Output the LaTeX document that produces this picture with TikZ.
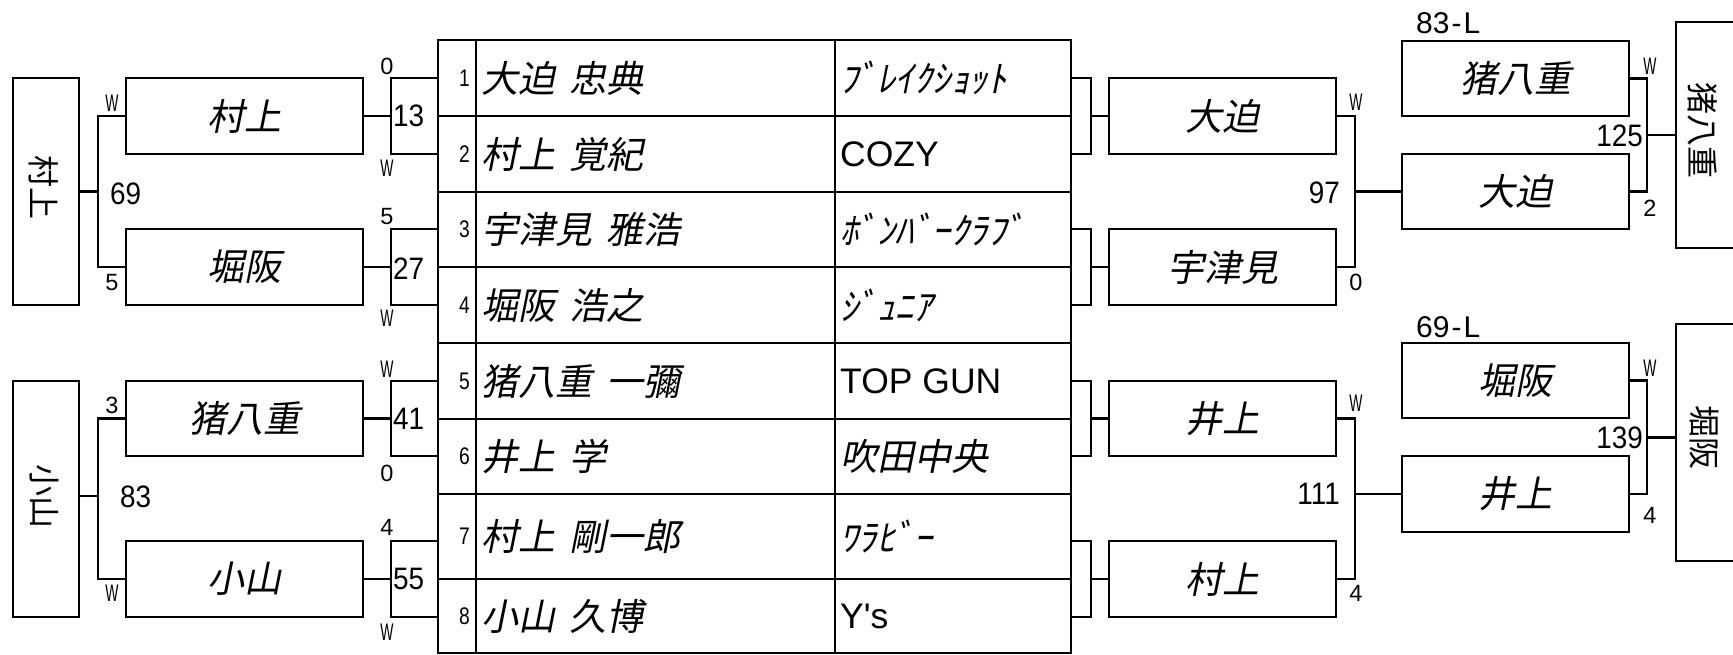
\documentclass[tikz,border=0pt]{standalone}
\usepackage{fontspec}
\usepackage{graphicx}
\setmainfont{Liberation Sans}
\newfontfamily\jpsl{Noto Sans CJK JP}[FakeSlant=0.2]
\newfontfamily\jpup{Noto Sans CJK JP}
\newfontfamily\latn{Liberation Sans}[Ligatures=TeXOff]
\newfontfamily\midn{Liberation Sans}[FakeStretch=0.9]
\newcommand{\jsp}{\hspace{14pt}}
\newcommand{\WW}{\scalebox{0.58}[1]{W}}
\newcommand{\tnumb}[1]{\scalebox{0.8}[1]{#1}}
\tikzset{
  bx/.style={draw, line width=2.8pt, inner sep=0pt, outer sep=0pt},
  cell/.style={draw, line width=2.8pt, inner sep=0pt, outer sep=0pt},
  ln/.style={line width=2.5pt},
  jpt/.style={font=\jpsl\fontsize{37}{37}\selectfont},
  vt/.style={font=\jpup\fontsize{32}{32}\selectfont, rotate=-90, inner sep=0pt},
  wl/.style={font=\fontsize{24}{24}\selectfont, inner sep=0pt},
  sl/.style={font=\fontsize{23.5}{23.5}\selectfont, inner sep=0pt},
  ml/.style={font=\midn\fontsize{31}{31}\selectfont, inner sep=0pt},
  lbl/.style={font=\fontsize{30}{30}\selectfont, inner sep=0pt, anchor=west},
  tn/.style={font=\fontsize{24}{24}\selectfont, inner sep=0pt, anchor=east},
  nm/.style={font=\jpsl\fontsize{37}{37}\selectfont, inner sep=0pt, anchor=west},
  lt/.style={font=\latn\fontsize{35.5}{35.5}\selectfont, inner sep=0pt, anchor=west},
}
\begin{document}
\begin{tikzpicture}[x=1pt,y=-1pt]
\useasboundingbox (0,0) rectangle (1733,655);
% ---------------- table ----------------
\foreach \i/\c/\h in {1/78/76, 2/154/76, 3/229.5/75, 4/305/76, 5/381/76, 6/456.5/75, 7/536.5/85, 8/616/74} {
  \node[cell, minimum width=38pt, minimum height=\h pt] (n\i) at (457,\c) {};
  \node[cell, minimum width=359pt, minimum height=\h pt] (m\i) at (655.5,\c) {};
  \node[cell, minimum width=236pt, minimum height=\h pt] (t\i) at (953,\c) {};
  \node[tn] (nt\i) at ([xshift=-6pt]n\i.east) {\tnumb{\i}};
}
\node[nm] (mt1) at ([xshift=5pt]m1.west) {大迫\jsp 忠典};
\node[nm] (mt2) at ([xshift=5pt]m2.west) {村上\jsp 覚紀};
\node[nm] (mt3) at ([xshift=5pt]m3.west) {宇津見\jsp 雅浩};
\node[nm] (mt4) at ([xshift=5pt]m4.west) {堀阪\jsp 浩之};
\node[nm] (mt5) at ([xshift=5pt]m5.west) {猪八重\jsp 一彌};
\node[nm] (mt6) at ([xshift=5pt]m6.west) {井上\jsp 学};
\node[nm] (mt7) at ([xshift=5pt]m7.west) {村上\jsp 剛一郎};
\node[nm] (mt8) at ([xshift=5pt]m8.west) {小山\jsp 久博};
\node[nm] (tt1) at ([xshift=5pt]t1.west) {ﾌﾞﾚｲｸｼｮｯﾄ};
\node[lt] (tt2) at ([xshift=5pt]t2.west) {COZY};
\node[nm] (tt3) at ([xshift=5pt]t3.west) {ﾎﾞﾝﾊﾞｰｸﾗﾌﾞ};
\node[nm] (tt4) at ([xshift=5pt]t4.west) {ｼﾞｭﾆｱ};
\node[lt] (tt5) at ([xshift=5pt]t5.west) {TOP GUN};
\node[nm] (tt6) at ([xshift=5pt]t6.west) {吹田中央};
\node[nm] (tt7) at ([xshift=5pt]t7.west) {ﾜﾗﾋﾞｰ};
\node[lt] (tt8) at ([xshift=5pt]t8.west) {Y's};
% ---------------- left side ----------------
\node[bx, minimum width=66pt, minimum height=227pt] (LF1) at (46,191.5) {};
\node[vt] (LF1t) at (44,188) {村上};
\node[bx, minimum width=66pt, minimum height=236pt] (LF2) at (46,499) {};
\node[vt] (LF2t) at (44,496) {小山};
\node[bx, jpt, minimum width=237pt, minimum height=76pt] (bL1) at (244.5,116) {村上};
\node[bx, jpt, minimum width=237pt, minimum height=76pt] (bL2) at (244.5,267) {堀阪};
\node[bx, jpt, minimum width=237pt, minimum height=75pt] (bL3) at (244.5,418.5) {猪八重};
\node[bx, jpt, minimum width=237pt, minimum height=76pt] (bL4) at (244.5,579) {小山};
\coordinate (v1) at (98,191.5);
\coordinate (v2) at (98,496);
\draw[ln] (bL1.west) -| (v1) |- (bL2.west);
\draw[ln] (LF1.east |- v1) -- (v1);
\draw[ln] (bL3.west) -| (v2) |- (bL4.west);
\draw[ln] (LF2.east |- v2) -- (v2);
\node[wl] (lw1) at (112,103) {\WW};
\node[ml, anchor=west] (l69) at (110,194) {69};
\node[sl] (l5) at (112,283) {5};
\node[sl] (l3) at (112,405) {3};
\node[ml, anchor=west] (l83) at (120,497) {83};
\node[wl] (lw2) at (112,593) {\WW};
% brackets left of table
\coordinate (k1) at (391,116);
\coordinate (k2) at (391,267);
\coordinate (k3) at (391,418.5);
\coordinate (k4) at (391,579);
\draw[ln] (bL1.east) -- (k1);
\draw[ln] (bL2.east) -- (k2);
\draw[ln] (bL3.east) -- (k3);
\draw[ln] (bL4.east) -- (k4);
\draw[ln] (n1.west |- bL1.north) -- (k1 |- bL1.north) -- (k1 |- bL1.south) -- (n1.west |- bL1.south);
\draw[ln] (n1.west |- bL2.north) -- (k2 |- bL2.north) -- (k2 |- bL2.south) -- (n1.west |- bL2.south);
\draw[ln] (n1.west |- bL3.north) -- (k3 |- bL3.north) -- (k3 |- bL3.south) -- (n1.west |- bL3.south);
\draw[ln] (n1.west |- bL4.north) -- (k4 |- bL4.north) -- (k4 |- bL4.south) -- (n1.west |- bL4.south);
\node[ml, anchor=west] (k1t) at ([xshift=2pt]k1) {13};
\node[ml, anchor=west] (k2t) at ([xshift=2pt,yshift=-2pt]k2) {27};
\node[ml, anchor=west] (k3t) at ([xshift=2pt]k3) {41};
\node[ml, anchor=west] (k4t) at ([xshift=2pt]k4) {55};
\node[sl] (ka1) at (387,66) {0};
\node[wl] (kb1) at (387,168) {\WW};
\node[sl] (ka2) at (387,217) {5};
\node[wl] (kb2) at (387,318) {\WW};
\node[wl] (ka3) at (387,369) {\WW};
\node[sl] (kb3) at (387,473) {0};
\node[sl] (ka4) at (387,527) {4};
\node[wl] (kb4) at (387,632) {\WW};
% ---------------- right side ----------------
\node[bx, jpt, minimum width=227pt, minimum height=76pt] (bR1) at (1222.5,116) {大迫};
\node[bx, jpt, minimum width=227pt, minimum height=76pt] (bR2) at (1222.5,267) {宇津見};
\node[bx, jpt, minimum width=227pt, minimum height=75pt] (bR3) at (1222.5,418.5) {井上};
\node[bx, jpt, minimum width=227pt, minimum height=76pt] (bR4) at (1222.5,579) {村上};
\coordinate (j1) at (1091,116);
\coordinate (j2) at (1091,267);
\coordinate (j3) at (1091,418.5);
\coordinate (j4) at (1091,579);
\draw[ln] (t1.east |- bR1.north) -- (j1 |- bR1.north) -- (j1 |- bR1.south) -- (t1.east |- bR1.south);
\draw[ln] (t1.east |- bR2.north) -- (j2 |- bR2.north) -- (j2 |- bR2.south) -- (t1.east |- bR2.south);
\draw[ln] (t1.east |- bR3.north) -- (j3 |- bR3.north) -- (j3 |- bR3.south) -- (t1.east |- bR3.south);
\draw[ln] (t1.east |- bR4.north) -- (j4 |- bR4.north) -- (j4 |- bR4.south) -- (t1.east |- bR4.south);
\draw[ln] (j1) -- (bR1.west);
\draw[ln] (j2) -- (bR2.west);
\draw[ln] (j3) -- (bR3.west);
\draw[ln] (j4) -- (bR4.west);
\node[bx, jpt, minimum width=227pt, minimum height=75pt] (fA) at (1515.5,78.5) {猪八重};
\node[bx, jpt, minimum width=227pt, minimum height=75pt] (fB) at (1515.5,191.5) {大迫};
\node[bx, jpt, minimum width=227pt, minimum height=75pt] (fC) at (1515.5,380.5) {堀阪};
\node[bx, jpt, minimum width=227pt, minimum height=76pt] (fD) at (1515.5,494) {井上};
\coordinate (u1) at (1355,191.5);
\coordinate (u2) at (1355,494);
\draw[ln] (bR1.east) -| (u1) |- (bR2.east);
\draw[ln] (u1) -- (fB.west);
\draw[ln] (bR3.east) -| (u2) |- (bR4.east);
\draw[ln] (u2) -- (fD.west);
\node[wl] (rw1) at (1356,102) {\WW};
\node[ml, anchor=east] (r97) at (1340,193) {97};
\node[sl] (r0) at (1356,282) {0};
\node[wl] (rw2) at (1356,403) {\WW};
\node[ml, anchor=east] (r111) at (1340,494) {111};
\node[sl] (r4) at (1356,593) {4};
\node[bx, minimum width=66pt, minimum height=226pt] (RF1) at (1709,135) {};
\node[vt] (RF1t) at (1703,131) {猪八重};
\node[bx, minimum width=66pt, minimum height=237pt] (RF2) at (1709,442.5) {};
\node[vt] (RF2t) at (1704,437) {堀阪};
\coordinate (w1) at (1647,135);
\coordinate (w2) at (1647,437.25);
\draw[ln] (fA.east) -| (w1) |- (fB.east);
\draw[ln] (w1) -- (RF1.west |- w1);
\draw[ln] (fC.east) -| (w2) |- (fD.east);
\draw[ln] (w2) -- (RF2.west |- w2);
\node[lbl] (l83L) at (1416,23) {83\kern2pt-\kern2pt L};
\node[lbl] (l69L) at (1416,327) {69\kern2pt-\kern2pt L};
\node[wl] (fw1) at (1650,66) {\WW};
\node[ml, anchor=east] (f125) at (1643,136) {125};
\node[sl] (f2) at (1650,208) {2};
\node[wl] (fw2) at (1650,368) {\WW};
\node[ml, anchor=east] (f139) at (1643,438) {139};
\node[sl] (f4) at (1650,515) {4};
\end{tikzpicture}
\end{document}
